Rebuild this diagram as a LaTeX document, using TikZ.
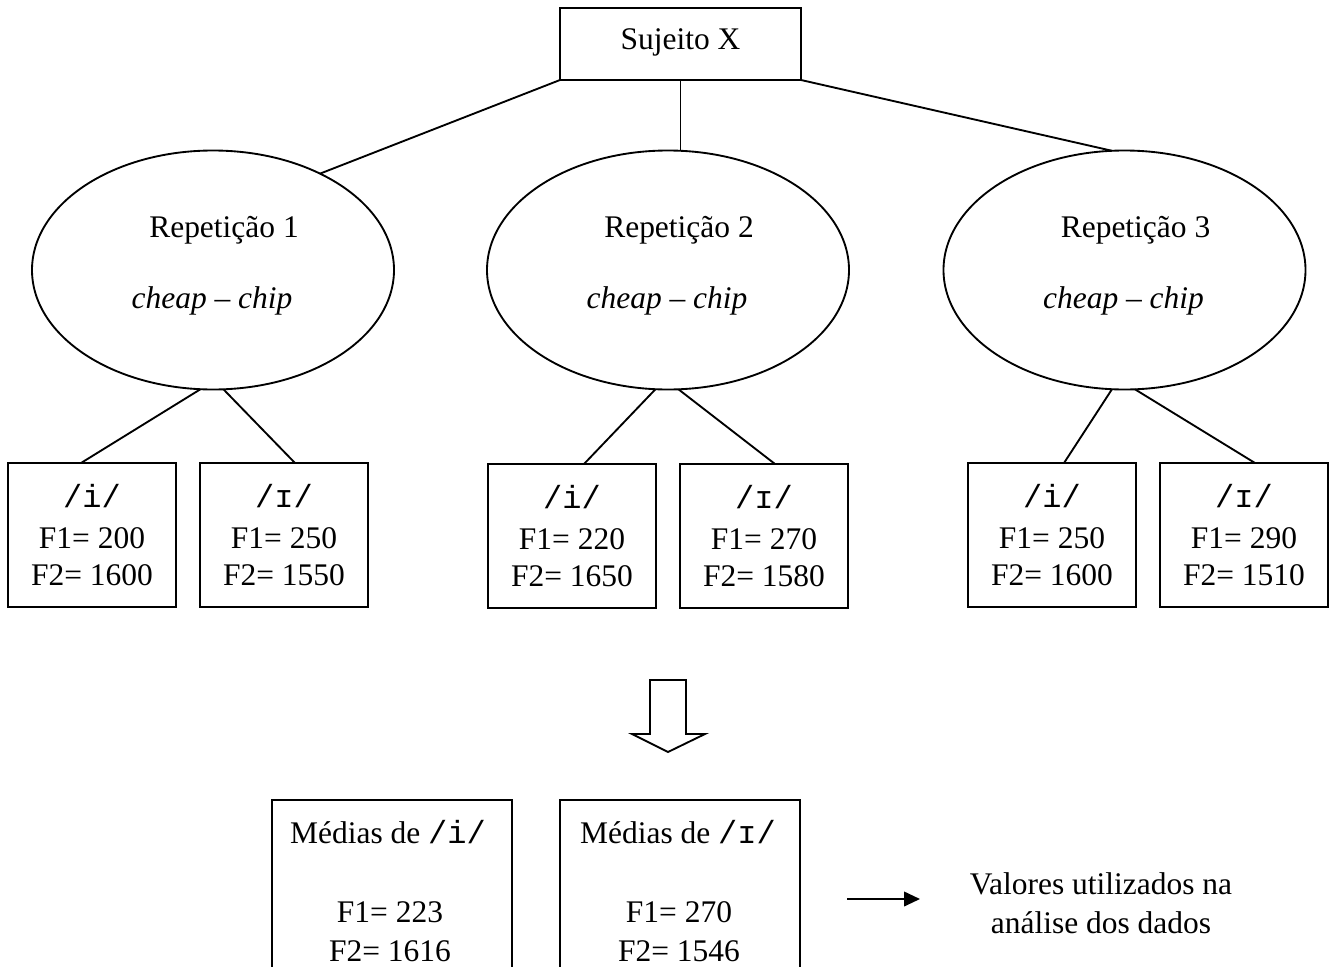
\documentclass[tikz,border=0pt]{standalone}
\usepackage{fontspec}
\setmainfont{Liberation Serif}
\newfontfamily\ipamono{Liberation Mono}
\usetikzlibrary{shapes.geometric,calc,arrows.meta}
\newcommand\ipatxt[1]{{\ipamono\fontsize{24}{28}\selectfont #1}}
\begin{document}
\begin{tikzpicture}[x=0.75pt,y=-0.75pt,
  every node/.style={inner sep=0pt,outer sep=0pt},
  line width=1.4pt,
  topbox/.style={draw,rectangle,minimum width=180.75pt,minimum height=54pt},
  repell/.style={draw,ellipse,minimum width=271.5pt,minimum height=179.25pt},
  vbox/.style={draw,rectangle,minimum width=126pt,minimum height=108pt,anchor=north west},
  mbox/.style={draw,rectangle,minimum width=180pt,minimum height=165pt,anchor=north west},
  txt/.style={font=\fontsize{23.6}{28}\selectfont,anchor=base},
  itxt/.style={font=\fontsize{23.6}{28}\selectfont\itshape,anchor=base},
  mono/.style={font=\ipamono\fontsize{24}{28}\selectfont,anchor=base}]
\useasboundingbox (0,0) rectangle (1331,967);
\clip (0,0) rectangle (1331,967);

% top
\node[topbox] (sx) at (680.5,44) {};
\node[txt] (sxt) at (680.5,49) {Sujeito X};

% ellipses
\node[repell] (r1) at (213,270) {};
\node[repell] (r2) at (668,270) {};
\node[repell] (r3) at (1124.5,270) {};
\foreach \e/\n in {r1/1,r2/2,r3/3}{
  \node[txt] (\e t) at ($(\e)+(11,-33)$) {Repetição \n};
  \node[itxt] (\e c) at ($(\e)+(-1,38)$) {cheap -- chip};
}

\draw (sx.south west) -- (r1.42);
\draw (sx.south) -- (sx.south |- r2.north);
\draw (sx.south east) -- (r3.96);

% vowel boxes
\node[vbox] (b1) at (8,463) {};
\node[vbox] (b2) at (200,463) {};
\node[vbox] (b3) at (488,464) {};
\node[vbox] (b4) at (680,464) {};
\node[vbox] (b5) at (968,463) {};
\node[vbox] (b6) at (1160,463) {};

\foreach \b/\v/\fa/\fb in {b1/i/200/1600, b2/ɪ/250/1550, b3/i/220/1650, b4/ɪ/270/1580, b5/i/250/1600, b6/ɪ/290/1510}{
  \node[mono] (\b v) at ($(\b.north)+(0,44)$) {/\v/};
  \node[txt] (\b f) at ($(\b.north)+(0,85)$) {F1= \fa};
  \node[txt] (\b g) at ($(\b.north)+(0,122)$) {F2= \fb};
}

\draw (r1.-96) -- ($(b1.north)+(-11,0)$);
\draw (r1.-85) -- ($(b2.north)+(11,0)$);
\draw (r2.-96) -- ($(b3.north)+(12,0)$);
\draw (r2.-85) -- ($(b4.north)+(11,0)$);
\draw (r3.-96) -- ($(b5.north)+(12,0)$);
\draw (r3.-85) -- ($(b6.north)+(11,0)$);

% block arrow
\draw[line join=miter] (650,680) -- (686,680) -- (686,734) -- (705,734) -- (668,752) -- (632,734) -- (650,734) -- cycle;

% means boxes
\node[mbox] (ma) at (272,800) {};
\node[mbox] (mb) at (560,800) {};
\node[txt] (mat) at ($(ma.north)+(-4,43)$) {Médias de \ipatxt{/i/}};
\node[txt] (maf) at ($(ma.north)+(-2,122)$) {F1= 223};
\node[txt] (mag) at ($(ma.north)+(-2,161)$) {F2= 1616};
\node[txt] (mbt) at ($(mb.north)+(-2,43)$) {Médias de \ipatxt{/ɪ/}};
\node[txt] (mbf) at ($(mb.north)+(-1,122)$) {F1= 270};
\node[txt] (mbg) at ($(mb.north)+(-1,161)$) {F2= 1546};

% result arrow and text
\node[txt] (val1) at (1101,894) {Valores utilizados na};
\node[txt] (val2) at (1101,933) {análise dos dados};
\coordinate (a1) at (847,899);
\coordinate (a2) at (920,899);
\draw[-{Triangle[length=12pt,width=11pt]}] (a1) -- (a2);
\end{tikzpicture}
\end{document}
